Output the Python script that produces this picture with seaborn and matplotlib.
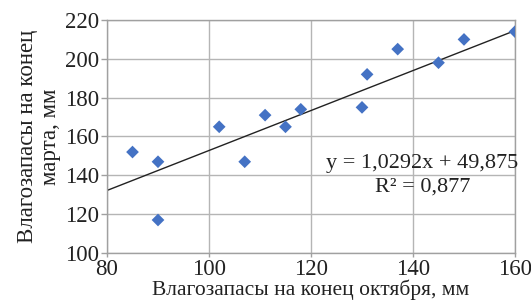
import matplotlib
matplotlib.use("Agg")
import matplotlib.pyplot as plt
import seaborn as sns
import numpy as np
import pandas as pd

oct_vals = [85, 90, 90, 102, 107, 111, 115, 118, 130, 131, 137, 145, 150, 160]
mar_vals = [152, 147, 117, 165, 147, 171, 165, 174, 175, 192, 205, 198, 210, 214]
slope = 1.0292
intercept = 49.875
r2_text = "R² = 0,877"
eq_text = "y = 1,0292x + 49,875"
xlabel = "Влагозапасы на конец октября, мм"
ylabel = "Влагозапасы на конец\nмарта, мм"

sns.set_theme(style="whitegrid")
plt.rcParams['font.family'] = ['Liberation Serif', 'DejaVu Serif']

df = pd.DataFrame({"x": oct_vals, "y": mar_vals})

fig = plt.figure(figsize=(5.31, 3.02), dpi=100)
ax = fig.add_axes([107/531, 1-253/302, (515-107)/531, (253-20)/302])

xs = np.array([80, 160])
ax.plot(xs, slope * xs + intercept, color="#222222", lw=1.0, zorder=2)
sns.scatterplot(data=df, x="x", y="y", marker="D", s=42, color="#4472C4",
                edgecolor="none", ax=ax, zorder=3)

ax.set_xlim(80, 160)
ax.set_ylim(100, 220)
ax.set_xticks(range(80, 161, 20))
ax.set_yticks(range(100, 221, 20))
ax.grid(True, color="#b5b5b5", lw=1.0)
for s in ax.spines.values():
    s.set_visible(True)
    s.set_color("#a0a0a0")
    s.set_linewidth(1.0)
ax.tick_params(axis="both", labelsize=16.5, colors="#222222", length=4, width=1.0,
               pad=1.5, direction="out", color="#a0a0a0")
ax.tick_params(axis="x", bottom=True, length=3, pad=1)
ax.tick_params(axis="y", left=True)
ax.set_xlabel(xlabel, fontsize=15.5, color="#222222", labelpad=0)
ax.set_ylabel(ylabel, fontsize=16.5, color="#222222", labelpad=3, linespacing=1.15)

ax.text(0.773, 0.386, eq_text, transform=ax.transAxes, ha="center", va="center",
        fontsize=16, color="#222222")
ax.text(0.773, 0.283, r2_text, transform=ax.transAxes, ha="center", va="center",
        fontsize=16, color="#222222")

fig.savefig("out.png", dpi=100)
